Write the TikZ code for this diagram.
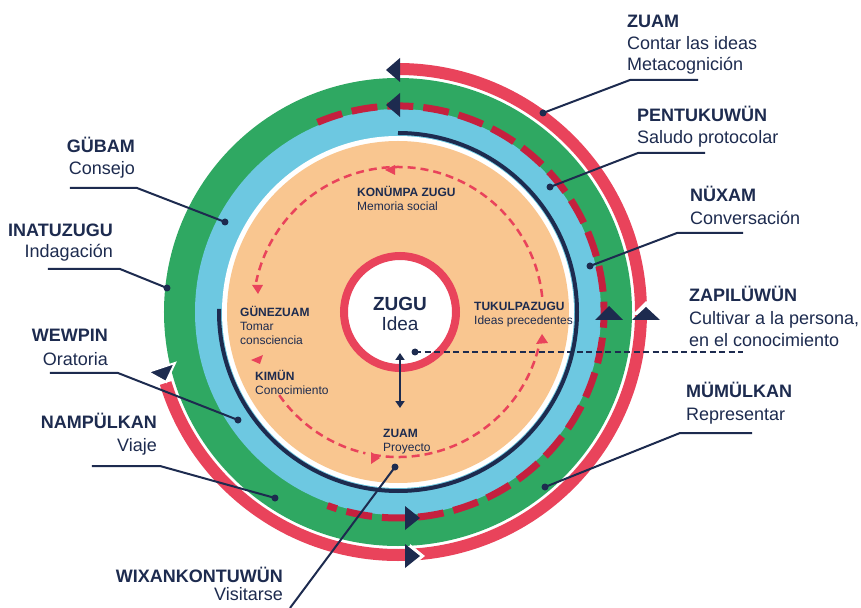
\documentclass[tikz,border=0pt]{standalone}
\usepackage{fontspec}
\setmainfont{Liberation Sans}
\usetikzlibrary{arrows.meta}
\definecolor{navy}{HTML}{1D2B4F}
\definecolor{cred}{HTML}{E9435B}
\definecolor{cdash}{HTML}{C5203E}
\definecolor{cgreen}{HTML}{2FA862}
\definecolor{cblue}{HTML}{6DC8E1}
\definecolor{corange}{HTML}{F9C690}
\begin{document}
\begin{tikzpicture}[x=1pt,y=1pt,
  lbl/.style={font=\fontsize{18}{20}\selectfont, text=navy, inner sep=0pt},
  lblb/.style={font=\fontsize{18}{20}\selectfont\bfseries, text=navy, inner sep=0pt},
  sml/.style={font=\fontsize{12}{14}\selectfont, text=navy, inner sep=0pt, anchor=base west},
  smlb/.style={font=\fontsize{12}{14}\selectfont\bfseries, text=navy, inner sep=0pt, anchor=base west},
  lead/.style={navy, line width=2pt},
  dotn/.style={circle, fill=navy, inner sep=0pt, minimum size=7pt},
  navytri/.style={fill=navy},
  pinktri/.style={fill=cred},
  innerdash/.style={cred, line width=2.5pt, dash pattern=on 8pt off 5pt}
]
\useasboundingbox (-398,-295) rectangle (463,312);
\fill[white] (-398,-295) rectangle (463,312);

% rings
\fill[cgreen] (0,0) circle (234);
\fill[cblue] (0,0) circle (203);
\fill[white] (0,0) circle (176);
\fill[corange] (0,0) circle (171);

% outer red arc
\draw[cred, line width=12pt] (90:243) arc[start angle=90, end angle=-163, radius=243];
% navy arc
\draw[navy, line width=4pt] (90:179) arc[start angle=90, end angle=-181, radius=179];
% dashed crimson arc
\draw[cdash, line width=7pt, dash pattern=on 26pt off 10pt] (113:206) arc[start angle=113, end angle=-110, radius=206];

% navy triangles
\fill[navytri] (2,230) -- (2,254) -- (-12,242) -- cycle;
\fill[navytri] (2,195) -- (2,219) -- (-12,207) -- cycle;
\fill[navytri] (197,-8) -- (225,-8) -- (211,6) -- cycle;
\fill[white] (234,-3) -- (262,-3) -- (248,11) -- cycle;
\fill[navytri] (234,-8) -- (262,-8) -- (248,5) -- cycle;
\fill[navytri] (7,-194) -- (7,-218) -- (22,-206) -- cycle;
\fill[white] (12,-232) -- (12,-256) -- (27,-244) -- cycle;
\fill[navytri] (7,-232) -- (7,-256) -- (22,-244) -- cycle;
\filldraw[fill=navy, draw=white, line width=2pt] (-250,-60) -- (-223,-51) -- (-232,-70) -- cycle;

% inner dashed circle
\draw[innerdash] (6:145) arc[start angle=6, end angle=168, radius=145];
\draw[innerdash] (-100:145) arc[start angle=-100, end angle=-14, radius=145];
\draw[innerdash] (-145:145) arc[start angle=-145, end angle=-103, radius=145];
% pink arrowheads
\fill[pinktri] (-3,137) -- (-3,147) -- (-13,142) -- cycle;
\fill[pinktri] (-146,27) -- (-135,27) -- (-140,18) -- cycle;
\fill[pinktri] (138,-32) -- (150,-31) -- (144,-22) -- cycle;
\fill[pinktri] (-27,-140) -- (-27,-152) -- (-18,-146) -- cycle;
\fill[pinktri] (-135,-43) -- (-138,-52) -- (-147,-48) -- cycle;

% center ring
\draw[cred, line width=8pt, fill=white] (2,0) circle (56);
\node[font=\fontsize{19}{21}\selectfont\bfseries, text=navy, inner sep=0pt, anchor=base] (zugu) at (2,1) {ZUGU};
\node[font=\fontsize{19}{21}\selectfont, text=navy, inner sep=0pt, anchor=base] (idea) at (2,-19) {Idea};

% double arrow
\coordinate (ua) at (2,-41);
\coordinate (ub) at (2,-96);
\draw[navy, line width=2pt, {Triangle[width=9pt,length=7pt]}-{Triangle[width=9pt,length=7pt]}] (ua) -- (ub);

% inner labels
\node[smlb] (konb) at (-41,115) {KONÜMPA ZUGU};
\node[sml] (kont) at (-41,101) {Memoria social};
\node[smlb] (guneb) at (-158,-5) {GÜNEZUAM};
\node[sml] (gunet1) at (-158,-19) {Tomar};
\node[sml] (gunet2) at (-158,-33) {consciencia};
\node[smlb] (kimb) at (-143,-68) {KIMÜN};
\node[sml] (kimt) at (-143,-82) {Conocimiento};
\node[smlb] (zuamib) at (-15,-125) {ZUAM};
\node[sml] (zuamit) at (-15,-139) {Proyecto};
\node[smlb] (tukb) at (76,1) {TUKULPAZUGU};
\node[sml] (tukt) at (76,-13) {Ideas precedentes};

% right labels
\node[lblb, anchor=base west] (zuamb) at (229,284) {ZUAM};
\node[lbl, anchor=base west] (zuamt1) at (229,262) {Contar las ideas};
\node[lbl, anchor=base west] (zuamt2) at (229,241) {Metacognición};
\node[lblb, anchor=base west] (pentb) at (239,190) {PENTUKUWÜN};
\node[lbl, anchor=base west] (pentt) at (239,168) {Saludo protocolar};
\node[lblb, anchor=base west] (nuxb) at (292,110) {NÜXAM};
\node[lbl, anchor=base west] (nuxt) at (292,87) {Conversación};
\node[lblb, anchor=base west] (zapb) at (291,10) {ZAPILÜWÜN};
\node[lbl, anchor=base west] (zapt1) at (291,-13) {Cultivar a la persona,};
\node[lbl, anchor=base west] (zapt2) at (291,-35) {en el conocimiento};
\node[lblb, anchor=base west] (mumb) at (288,-85) {MÜMÜLKAN};
\node[lbl, anchor=base west] (mumt) at (288,-108) {Representar};

% left labels
\node[lblb, anchor=base east] (gubb) at (-263,159) {GÜBAM};
\node[lbl, anchor=base east] (gubt) at (-263,137) {Consejo};
\node[lblb, anchor=base east] (inab) at (-285,75) {INATUZUGU};
\node[lbl, anchor=base east] (inat) at (-285,54) {Indagación};
\node[lblb, anchor=base east] (wewb) at (-290,-30) {WEWPIN};
\node[lbl, anchor=base east] (wewt) at (-290,-53) {Oratoria};
\node[lblb, anchor=base east] (namb) at (-241,-116) {NAMPÜLKAN};
\node[lbl, anchor=base east] (namt) at (-241,-139) {Viaje};
\node[lblb, anchor=base east] (wixb) at (-115,-270) {WIXANKONTUWÜN};
\node[lbl, anchor=base east] (wixt) at (-115,-288) {Visitarse};

% leader lines
\node[dotn] (d1) at (145,199) {};
\coordinate (k1) at (232,232); \coordinate (e1) at (300,232);
\draw[lead] (d1.center) -- (k1) -- (e1);
\node[dotn] (d2) at (152,125) {};
\coordinate (k2) at (240,159); \coordinate (e2) at (307,159);
\draw[lead] (d2.center) -- (k2) -- (e2);
\node[dotn] (d3) at (192,46) {};
\coordinate (k3) at (279,79); \coordinate (e3) at (345,79);
\draw[lead] (d3.center) -- (k3) -- (e3);
\node[dotn] (d4) at (17,-40) {};
\coordinate (e4) at (345,-40);
\draw[navy, line width=2pt, dash pattern=on 6pt off 3.5pt] (d4.center) -- (e4);
\node[dotn] (d5) at (147,-175) {};
\coordinate (k5) at (282,-121); \coordinate (e5) at (354,-121);
\draw[lead] (d5.center) -- (k5) -- (e5);
\node[dotn] (d6) at (-173,90) {};
\coordinate (k6) at (-261,124); \coordinate (e6) at (-328,124);
\draw[lead] (d6.center) -- (k6) -- (e6);
\node[dotn] (d7) at (-231,24) {};
\coordinate (k7) at (-278,43); \coordinate (e7) at (-350,43);
\draw[lead] (d7.center) -- (k7) -- (e7);
\node[dotn] (d8) at (-160,-108) {};
\coordinate (k8) at (-280,-61); \coordinate (e8) at (-348,-61);
\draw[lead] (d8.center) -- (k8) -- (e8);
\node[dotn] (d9) at (-123,-186) {};
\coordinate (k9) at (-238,-154); \coordinate (e9) at (-306,-154);
\draw[lead] (d9.center) -- (k9) -- (e9);
\node[dotn] (d10) at (-3,-155) {};
\coordinate (e10) at (-108,-296);
\draw[lead] (d10.center) -- (e10);
\end{tikzpicture}
\end{document}
